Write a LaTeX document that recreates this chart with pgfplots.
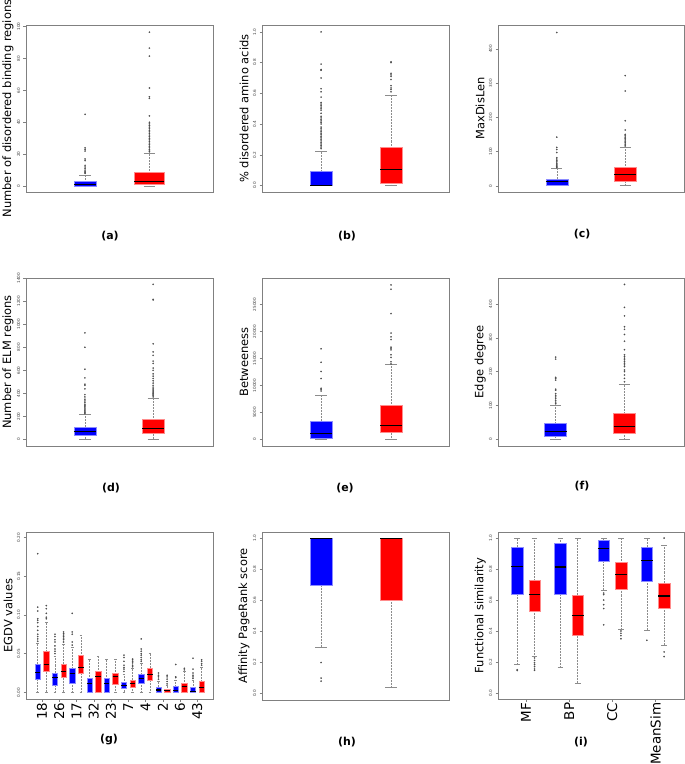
\documentclass[border=0pt]{standalone}
\usepackage{fontspec}
\setmainfont{DejaVu Sans}
\usepackage{pgfplots}
\pgfplotsset{compat=1.18}
\usepgfplotslibrary{statistics}

\definecolor{frame}{gray}{0.5}
\definecolor{whisk}{gray}{0.55}
\definecolor{outl}{gray}{0.3}

\pgfplotsset{
  panel/.style={
    scale only axis, anchor=north west,
    width=187bp, height=167bp,
    xmin=0, xmax=1, xtick=\empty,
    axis line style={frame, line width=0.8bp},
    every tick/.style={frame, line width=0.4bp},
    tick align=outside, major tick length=2.5bp,
    ytick pos=left, xtick pos=bottom,
    scaled y ticks=false,
    /pgf/number format/assume math mode=true,
    /pgf/number format/set thousands separator={},
    yticklabel style={font=\fontsize{4.2}{5}\selectfont, text=black!75, xshift=-2bp, rotate=90, anchor=south, inner sep=1bp},
    xticklabel style={font=\fontsize{13.5}{15}\selectfont, rotate=90, anchor=east, inner sep=1bp},
    ylabel style={font=\fontsize{11.5}{13}\selectfont, at={(axis description cs:-0.096,0.5)}, anchor=center},
    boxplot/draw direction=y,
    boxplot/box extend=0.118,
    boxplot/whisker extend=0.06,
  },
  bx/.style={
    mark=*, mark size=0.7bp, mark options={draw=outl, fill=outl, line width=0.2bp},
    line width=0.4bp,
    boxplot/every median/.style={draw=black, line width=1.1bp},
    boxplot/draw/lower whisker/.code={%
      \draw[whisk, fill=none, densely dotted, line width=0.5bp]
        (boxplot box cs:\pgfplotsboxplotvalue{lower quartile},0.5) --
        (boxplot box cs:\pgfplotsboxplotvalue{lower whisker},0.5);
      \draw[whisk, fill=none, line width=0.5bp]
        (boxplot whisker cs:\pgfplotsboxplotvalue{lower whisker},0) --
        (boxplot whisker cs:\pgfplotsboxplotvalue{lower whisker},1);
    },
    boxplot/draw/upper whisker/.code={%
      \draw[whisk, fill=none, densely dotted, line width=0.5bp]
        (boxplot box cs:\pgfplotsboxplotvalue{upper quartile},0.5) --
        (boxplot box cs:\pgfplotsboxplotvalue{upper whisker},0.5);
      \draw[whisk, fill=none, line width=0.5bp]
        (boxplot whisker cs:\pgfplotsboxplotvalue{upper whisker},0) --
        (boxplot whisker cs:\pgfplotsboxplotvalue{upper whisker},1);
    },
  },
  bb/.style={bx, fill=blue, draw=blue!45!white},
  rb/.style={bx, fill=red, draw=red!45!white},
}

\begin{document}
\begin{tikzpicture}
\useasboundingbox (0,0) rectangle (685bp,-764bp);

% (a)
\begin{axis}[panel, at={(26bp,-25bp)}, ymin=-3.7, ymax=101, ytick={0,20,...,100},
  ylabel={Number of disordered binding regions}]
\addplot[bb, boxplot prepared={draw position=0.316, lower whisker=0, lower quartile=0,
  median=1, upper quartile=3, upper whisker=7}]
  table[row sep=\\, y index=0] {y\\ 8\\ 8.5\\ 9\\ 10\\ 11\\ 12\\ 13\\ 16\\ 17\\ 22\\ 23\\ 24\\ 45\\};
\addplot[rb, boxplot/box extend=0.16, boxplot prepared={draw position=0.66, lower whisker=0, lower quartile=1.2,
  median=2.9, upper quartile=8.7, upper whisker=20.8}]
  table[row sep=\\, y index=0] {y\\ 21.5\\ 22\\ 23\\ 24\\ 25\\ 26\\ 27\\ 28\\ 29\\ 30\\ 31\\ 32\\ 33\\ 34\\ 35\\ 36\\ 37\\ 38\\ 39\\ 40\\ 44\\ 55\\ 56\\ 61.5\\ 81.5\\ 86.5\\ 96.5\\};
\end{axis}

% (b)
\begin{axis}[panel, at={(262bp,-25bp)}, ymin=-0.043, ymax=1.045, ytick={0,0.2,...,1.0},
  yticklabel style={/pgf/number format/.cd, fixed, fixed zerofill, precision=1},
  ylabel={\% disordered amino acids}]
\addplot[bb, boxplot prepared={draw position=0.316, lower whisker=0, lower quartile=0,
  median=0.001, upper quartile=0.09, upper whisker=0.225}]
  table[row sep=\\, y index=0] {y\\ 0.24\\ 0.25\\ 0.26\\ 0.27\\ 0.28\\ 0.29\\ 0.30\\ 0.31\\ 0.32\\ 0.33\\ 0.34\\ 0.35\\ 0.36\\ 0.37\\ 0.38\\ 0.40\\ 0.41\\ 0.42\\ 0.43\\ 0.44\\ 0.45\\ 0.47\\ 0.49\\ 0.50\\ 0.51\\ 0.52\\ 0.53\\ 0.54\\ 0.575\\ 0.61\\ 0.63\\ 0.70\\ 0.75\\ 0.755\\ 0.79\\ 1.0\\};
\addplot[rb, boxplot prepared={draw position=0.69, lower whisker=0, lower quartile=0.015,
  median=0.105, upper quartile=0.247, upper whisker=0.59}]
  table[row sep=\\, y index=0] {y\\ 0.61\\ 0.625\\ 0.635\\ 0.65\\ 0.69\\ 0.71\\ 0.72\\ 0.73\\ 0.80\\ 0.805\\};
\end{axis}

% (c)
\begin{axis}[panel, at={(498bp,-25bp)}, width=186bp, ymin=-18.4, ymax=470, ytick={0,100,...,400},
  ylabel={MaxDisLen}]
\addplot[bb, boxplot prepared={draw position=0.316, lower whisker=0, lower quartile=1,
  median=11.6, upper quartile=20, upper whisker=51}]
  table[row sep=\\, y index=0] {y\\ 53\\ 55\\ 57\\ 60\\ 63\\ 66\\ 70\\ 74\\ 78\\ 82\\ 97\\ 106\\ 112\\ 142\\ 448\\};
\addplot[rb, boxplot prepared={draw position=0.684, lower whisker=0, lower quartile=14.5,
  median=33, upper quartile=54, upper whisker=113}]
  table[row sep=\\, y index=0] {y\\ 116\\ 119\\ 122\\ 126\\ 130\\ 134\\ 138\\ 142\\ 146\\ 150\\ 163\\ 190\\ 277\\ 322\\};
\end{axis}

% (d)
\begin{axis}[panel, at={(26bp,-278bp)}, height=168bp, ymin=-55, ymax=1400, ytick={0,200,...,1400},
  ylabel={Number of ELM regions}]
\addplot[bb, boxplot prepared={draw position=0.315, lower whisker=6, lower quartile=38,
  median=69, upper quartile=110, upper whisker=220}]
  table[row sep=\\, y index=0] {y\\ 225\\ 235\\ 245\\ 255\\ 265\\ 275\\ 285\\ 295\\ 305\\ 320\\ 335\\ 350\\ 370\\ 390\\ 440\\ 470\\ 480\\ 535\\ 610\\ 800\\ 925\\};
\addplot[rb, boxplot prepared={draw position=0.68, lower whisker=6, lower quartile=52,
  median=98, upper quartile=176, upper whisker=362}]
  table[row sep=\\, y index=0] {y\\ 370\\ 380\\ 390\\ 400\\ 410\\ 420\\ 430\\ 440\\ 455\\ 470\\ 490\\ 510\\ 530\\ 550\\ 570\\ 600\\ 620\\ 660\\ 680\\ 730\\ 760\\ 830\\ 1210\\ 1215\\ 1345\\};
\end{axis}

% (e)
\begin{axis}[panel, at={(262bp,-278bp)}, height=168bp, ymin=-1173, ymax=29877, ytick={0,5000,...,25000},
  ylabel={Betweeness}]
\addplot[bb, boxplot prepared={draw position=0.316, lower whisker=0, lower quartile=310,
  median=1170, upper quartile=3460, upper whisker=8150}]
  table[row sep=\\, y index=0] {y\\ 9000\\ 9300\\ 9500\\ 11300\\ 12600\\ 14300\\ 16800\\};
\addplot[rb, boxplot prepared={draw position=0.69, lower whisker=0, lower quartile=1300,
  median=2590, upper quartile=6360, upper whisker=13900}]
  table[row sep=\\, y index=0] {y\\ 14000\\ 14400\\ 15200\\ 15700\\ 16600\\ 16900\\ 17100\\ 18500\\ 19000\\ 19700\\ 23300\\ 27800\\ 28600\\};
\end{axis}

% (f)
\begin{axis}[panel, at={(498bp,-278bp)}, width=186bp, height=168bp, ymin=-20, ymax=477, ytick={0,100,...,400},
  ylabel={Edge degree}]
\addplot[bb, boxplot prepared={draw position=0.31, lower whisker=0, lower quartile=10,
  median=23, upper quartile=46, upper whisker=100}]
  table[row sep=\\, y index=0] {y\\ 105\\ 110\\ 115\\ 120\\ 125\\ 130\\ 135\\ 145\\ 148\\ 175\\ 180\\ 183\\ 237\\ 243\\};
\addplot[rb, boxplot prepared={draw position=0.68, lower whisker=0, lower quartile=17,
  median=39, upper quartile=76, upper whisker=163}]
  table[row sep=\\, y index=0] {y\\ 170\\ 180\\ 190\\ 200\\ 205\\ 215\\ 220\\ 225\\ 230\\ 235\\ 240\\ 245\\ 250\\ 265\\ 290\\ 310\\ 325\\ 333\\ 365\\ 390\\ 458\\};
\end{axis}

% (g)
\begin{axis}[panel, at={(26bp,-532bp)}, ymin=-0.0086, ymax=0.207, ytick={0,0.05,...,0.2},
  yticklabel style={/pgf/number format/.cd, fixed, fixed zerofill, precision=2},
  xmin=-0.357, xmax=21.32, xtick={1.5,3.5,...,19.5},
  xticklabels={18,26,17,32,23,7,4,2,6,43},
  boxplot/box extend=0.62, boxplot/whisker extend=0.3,
  ylabel={EGDV values}]
\addplot[bb, boxplot prepared={draw position=1, lower whisker=0, lower quartile=0.0173, median=0.0255, upper quartile=0.0367, upper whisker=0.063}]
  table[row sep=\\, y index=0] {y\\ 0.066\\ 0.069\\ 0.072\\ 0.075\\ 0.08\\ 0.085\\ 0.09\\ 0.093\\ 0.095\\ 0.105\\ 0.11\\ 0.179\\};
\addplot[rb, boxplot prepared={draw position=2, lower whisker=0, lower quartile=0.0268, median=0.0359, upper quartile=0.0527, upper whisker=0.090}]
  table[row sep=\\, y index=0] {y\\ 0.095\\ 0.097\\ 0.102\\ 0.108\\ 0.112\\};
\addplot[bb, boxplot prepared={draw position=3, lower whisker=0, lower quartile=0.0095, median=0.0186, upper quartile=0.025, upper whisker=0.047}]
  table[row sep=\\, y index=0] {y\\ 0.05\\ 0.053\\ 0.056\\ 0.06\\ 0.065\\ 0.068\\ 0.072\\ 0.075\\};
\addplot[rb, boxplot prepared={draw position=4, lower whisker=0, lower quartile=0.019, median=0.0268, upper quartile=0.0367, upper whisker=0.062}]
  table[row sep=\\, y index=0] {y\\ 0.065\\ 0.068\\ 0.07\\ 0.072\\ 0.074\\ 0.076\\ 0.078\\};
\addplot[bb, boxplot prepared={draw position=5, lower whisker=0, lower quartile=0.0117, median=0.024, upper quartile=0.0307, upper whisker=0.058}]
  table[row sep=\\, y index=0] {y\\ 0.061\\ 0.065\\ 0.075\\ 0.078\\ 0.102\\};
\addplot[rb, boxplot prepared={draw position=6, lower whisker=0, lower quartile=0.025, median=0.0324, upper quartile=0.048, upper whisker=0.074}]
  coordinates {};
\addplot[bb, boxplot prepared={draw position=7, lower whisker=0, lower quartile=0, median=0.0115, upper quartile=0.018, upper whisker=0.043}]
  coordinates {};
\addplot[rb, boxplot prepared={draw position=8, lower whisker=0, lower quartile=0, median=0.02, upper quartile=0.027, upper whisker=0.046}]
  coordinates {};
\addplot[bb, boxplot prepared={draw position=9, lower whisker=0, lower quartile=0, median=0.012, upper quartile=0.018, upper whisker=0.043}]
  coordinates {};
\addplot[rb, boxplot prepared={draw position=10, lower whisker=0, lower quartile=0.0104, median=0.02, upper quartile=0.0246, upper whisker=0.043}]
  coordinates {};
\addplot[bb, boxplot prepared={draw position=11, lower whisker=0, lower quartile=0.005, median=0.009, upper quartile=0.013, upper whisker=0.024}]
  table[row sep=\\, y index=0] {y\\ 0.027\\ 0.03\\ 0.032\\ 0.035\\ 0.04\\ 0.045\\ 0.048\\};
\addplot[rb, boxplot prepared={draw position=12, lower whisker=0, lower quartile=0.0065, median=0.012, upper quartile=0.016, upper whisker=0.031}]
  table[row sep=\\, y index=0] {y\\ 0.033\\ 0.035\\ 0.038\\ 0.04\\ 0.042\\ 0.043\\};
\addplot[bb, boxplot prepared={draw position=13, lower whisker=0, lower quartile=0.0117, median=0.0173, upper quartile=0.023, upper whisker=0.038}]
  table[row sep=\\, y index=0] {y\\ 0.04\\ 0.042\\ 0.045\\ 0.048\\ 0.05\\ 0.053\\ 0.056\\ 0.069\\};
\addplot[rb, boxplot prepared={draw position=14, lower whisker=0, lower quartile=0.016, median=0.023, upper quartile=0.0315, upper whisker=0.051}]
  coordinates {};
\addplot[bb, boxplot prepared={draw position=15, lower whisker=0, lower quartile=0, median=0.003, upper quartile=0.007, upper whisker=0.014}]
  table[row sep=\\, y index=0] {y\\ 0.017\\ 0.02\\ 0.022\\ 0.025\\};
\addplot[rb, boxplot prepared={draw position=16, lower whisker=0, lower quartile=0.0005, median=0.002, upper quartile=0.004, upper whisker=0.009}]
  table[row sep=\\, y index=0] {y\\ 0.011\\ 0.014\\ 0.017\\ 0.02\\ 0.022\\};
\addplot[bb, boxplot prepared={draw position=17, lower whisker=0, lower quartile=0, median=0.002, upper quartile=0.0073, upper whisker=0.016}]
  table[row sep=\\, y index=0] {y\\ 0.019\\ 0.02\\ 0.036\\};
\addplot[rb, boxplot prepared={draw position=18, lower whisker=0, lower quartile=0, median=0.0073, upper quartile=0.0117, upper whisker=0.027}]
  table[row sep=\\, y index=0] {y\\ 0.029\\ 0.031\\};
\addplot[bb, boxplot prepared={draw position=19, lower whisker=0, lower quartile=0, median=0.001, upper quartile=0.0065, upper whisker=0.016}]
  table[row sep=\\, y index=0] {y\\ 0.018\\ 0.02\\ 0.022\\ 0.025\\ 0.03\\ 0.044\\};
\addplot[rb, boxplot prepared={draw position=20, lower whisker=0, lower quartile=0, median=0.006, upper quartile=0.014, upper whisker=0.033}]
  table[row sep=\\, y index=0] {y\\ 0.035\\ 0.037\\ 0.04\\ 0.042\\};
\end{axis}

% (h)
\begin{axis}[panel, at={(262bp,-532bp)}, height=168bp, ymin=-0.041, ymax=1.039, ytick={0,0.2,...,1.0},
  yticklabel style={/pgf/number format/.cd, fixed, fixed zerofill, precision=1},
  ylabel={Affinity PageRank score}]
\addplot[bb, boxplot prepared={draw position=0.316, lower whisker=0.30, lower quartile=0.70,
  median=1.0, upper quartile=1.0, upper whisker=1.0}]
  table[row sep=\\, y index=0] {y\\ 0.2\\ 0.1\\ 0.08\\};
\addplot[rb, boxplot prepared={draw position=0.69, lower whisker=0.04, lower quartile=0.60,
  median=1.0, upper quartile=1.0, upper whisker=1.0}]
  coordinates {};
\end{axis}

% (i)
\begin{axis}[panel, at={(498bp,-532bp)}, width=186bp, ymin=-0.039, ymax=1.039, ytick={0,0.2,...,1.0},
  yticklabel style={/pgf/number format/.cd, fixed, fixed zerofill, precision=1},
  xmin=-0.115, xmax=10.65, xtick={1.5,4,6.5,9},
  xticklabels={MF,BP,CC,MeanSim},
  boxplot/box extend=0.67, boxplot/whisker extend=0.33,
  ylabel={Functional similarity}]
\addplot[bb, boxplot prepared={draw position=1, lower whisker=0.187, lower quartile=0.639, median=0.819, upper quartile=0.944, upper whisker=1.0}]
  table[row sep=\\, y index=0] {y\\ 0.15\\ 0.145\\};
\addplot[rb, boxplot prepared={draw position=2, lower whisker=0.24, lower quartile=0.529, median=0.634, upper quartile=0.725, upper whisker=1.0}]
  table[row sep=\\, y index=0] {y\\ 0.226\\ 0.21\\ 0.195\\ 0.183\\ 0.17\\ 0.155\\ 0.146\\};
\addplot[bb, boxplot prepared={draw position=3.5, lower whisker=0.168, lower quartile=0.639, median=0.813, upper quartile=0.966, upper whisker=1.0}]
  coordinates {};
\addplot[rb, boxplot prepared={draw position=4.5, lower whisker=0.062, lower quartile=0.37, median=0.499, upper quartile=0.634, upper whisker=1.0}]
  coordinates {};
\addplot[bb, boxplot prepared={draw position=6, lower whisker=0.66, lower quartile=0.852, median=0.933, upper quartile=0.989, upper whisker=1.0}]
  table[row sep=\\, y index=0] {y\\ 0.645\\ 0.635\\ 0.60\\ 0.57\\ 0.545\\ 0.44\\};
\addplot[rb, boxplot prepared={draw position=7, lower whisker=0.413, lower quartile=0.671, median=0.763, upper quartile=0.845, upper whisker=1.0}]
  table[row sep=\\, y index=0] {y\\ 0.40\\ 0.385\\ 0.37\\ 0.35\\};
\addplot[bb, boxplot prepared={draw position=8.5, lower whisker=0.406, lower quartile=0.72, median=0.856, upper quartile=0.944, upper whisker=1.0}]
  table[row sep=\\, y index=0] {y\\ 0.34\\};
\addplot[rb, boxplot prepared={draw position=9.5, lower whisker=0.308, lower quartile=0.546, median=0.626, upper quartile=0.71, upper whisker=0.955}]
  table[row sep=\\, y index=0] {y\\ 1.0\\ 0.265\\ 0.235\\};
\end{axis}

\begin{scope}[every node/.style={font=\bfseries\fontsize{11}{13}\selectfont}]
\node at (110bp,-236bp) {(a)};
\node at (347bp,-236bp) {(b)};
\node at (582bp,-234bp) {(c)};
\node at (111bp,-488bp) {(d)};
\node at (345bp,-488bp) {(e)};
\node at (582bp,-486bp) {(f)};
\node at (109bp,-740bp) {(g)};
\node at (347bp,-742bp) {(h)};
\node at (581bp,-742bp) {(i)};
\end{scope}
\end{tikzpicture}
\end{document}
